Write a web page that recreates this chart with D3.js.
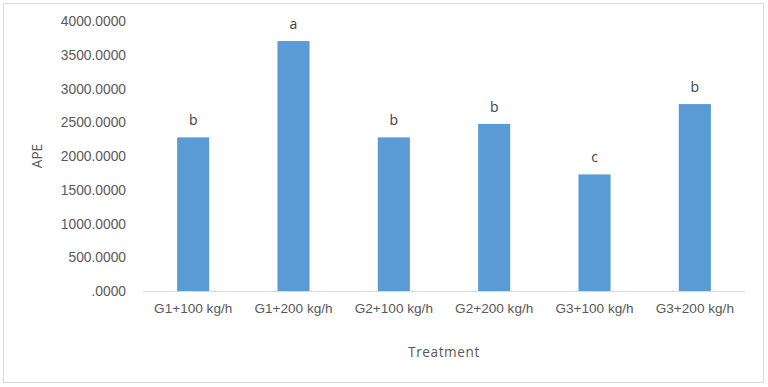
<!DOCTYPE html>
<html>
<head>
<meta charset="utf-8">
<script src="https://cdn.jsdelivr.net/npm/d3@7"></script>
<style>
  body { margin: 0; background: #fff; }
  svg { display: block; font-family: "Open Sans", sans-serif; }
</style>
</head>
<body>
<svg width="768" height="387"></svg>
<script>
const treatments = ["G1+100 kg/h", "G1+200 kg/h", "G2+100 kg/h", "G2+200 kg/h", "G3+100 kg/h", "G3+200 kg/h"];
const apeValues = [2280, 3710, 2280, 2480, 1730, 2775];
const groupLetters = ["b", "a", "b", "b", "c", "b"];
const yTicks = [0, 500, 1000, 1500, 2000, 2500, 3000, 3500, 4000];

const svg = d3.select("svg");

svg.append("rect")
    .attr("x", 3.5).attr("y", 3.5)
    .attr("width", 760).attr("height", 379)
    .attr("fill", "#fff")
    .attr("stroke", "#d9d9d9")

const x = d3.scaleBand().domain(treatments).range([143, 745]).paddingInner(0.68).paddingOuter(0.34)
const y = d3.scaleLinear().domain([0, 4000]).range([291, 21.5])

const yAxis = d3.axisLeft(y).tickValues(yTicks).tickSize(0).tickPadding(17)
    .tickFormat(d => d === 0 ? ".0000" : d3.format(".4f")(d))

svg.append("g")
    .attr("transform", "translate(143,0)")
    .call(yAxis)
    .call(g => g.select(".domain").remove())
    .selectAll("text")
    .attr("fill", "#595959")
    .style("font-size", "13.8px")

const xAxis = d3.axisBottom(x).tickSize(0).tickPadding(12)
svg.append("g")
    .attr("transform", "translate(0,291)")
    .call(xAxis)
    .call(g => g.select(".domain").attr("stroke", "#d9d9d9").attr("d", "M143,0.5H745"))
    .selectAll("text")
    .attr("fill", "#595959")
    .style("font-size", "13.6px")

svg.append("g")
    .selectAll("rect")
    .data(apeValues)
    .enter()
    .append("rect")
    .attr("x", (d, i) => x(treatments[i]))
    .attr("y", d => y(d))
    .attr("width", x.bandwidth())
    .attr("height", d => y(0) - y(d))
    .attr("fill", "#5b9bd5")

svg.append("g")
    .selectAll("text")
    .data(apeValues)
    .enter()
    .append("text")
    .attr("x", (d, i) => x(treatments[i]) + x.bandwidth() / 2)
    .attr("y", d => y(d) - 12)
    .attr("text-anchor", "middle")
    .attr("fill", "#404040")
    .style("font-size", "14px")
    .text((d, i) => groupLetters[i])

svg.append("text")
    .attr("transform", "translate(42,156) rotate(-90)")
    .attr("text-anchor", "middle")
    .attr("fill", "#595959")
    .style("font-size", "13.6px")
    .text("APE")

svg.append("text")
    .attr("x", 444).attr("y", 357)
    .attr("text-anchor", "middle")
    .attr("fill", "#595959")
    .style("font-size", "13.6px")
    .attr("letter-spacing", "0.6px")
    .text("Treatment")
</script>
</body>
</html>
